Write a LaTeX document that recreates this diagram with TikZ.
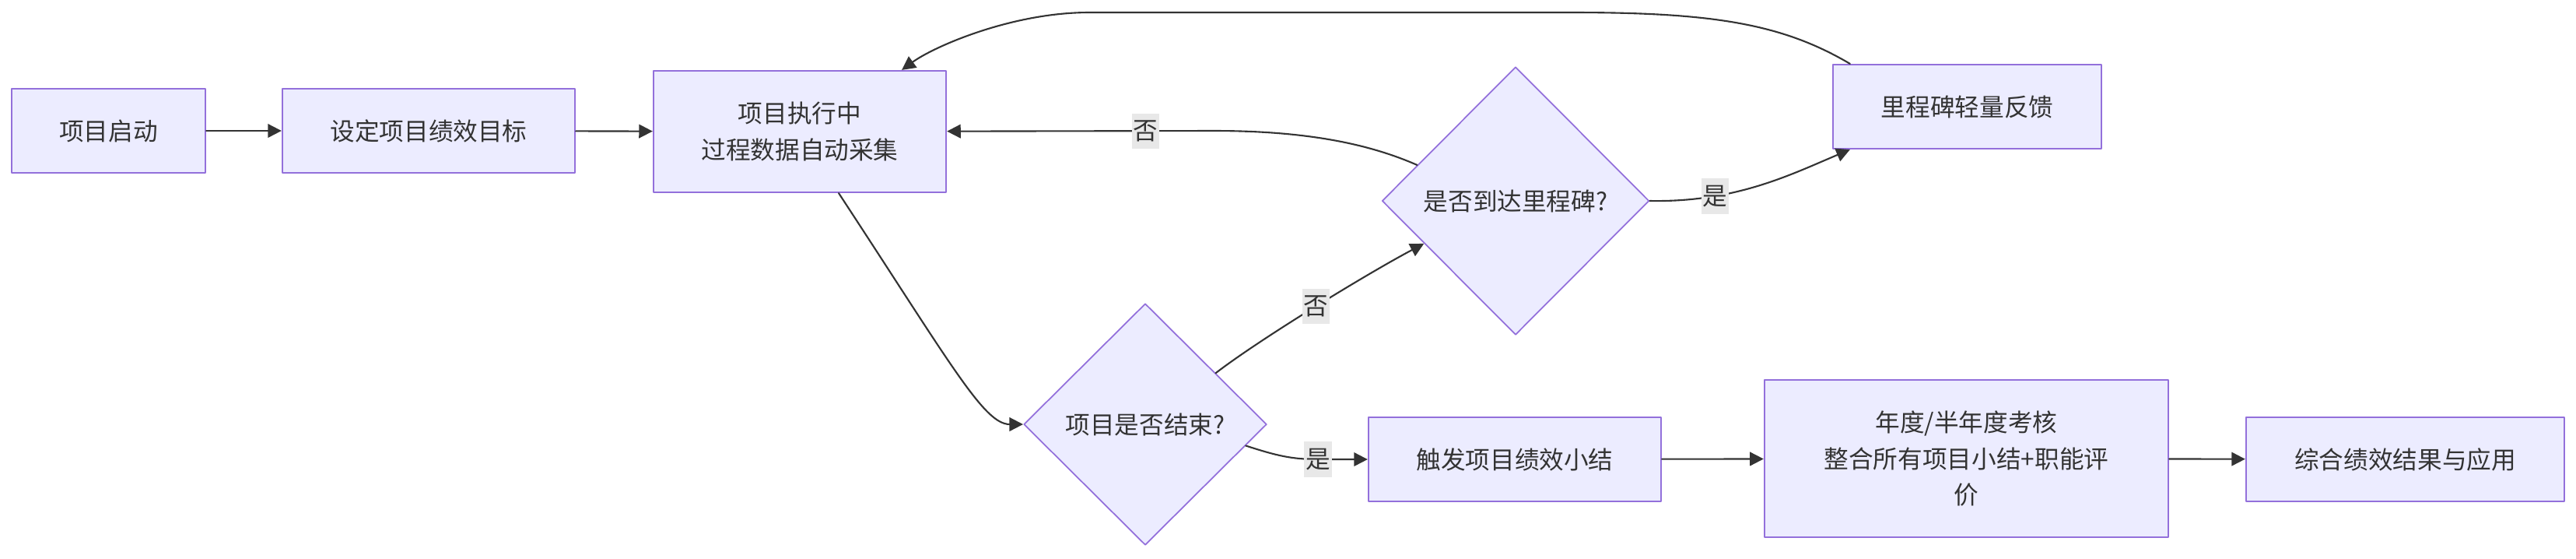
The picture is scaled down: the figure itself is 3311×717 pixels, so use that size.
\documentclass[tikz,border=0pt]{standalone}
\usepackage{fontspec}
\setmainfont{Noto Sans CJK SC}
\usetikzlibrary{shapes.geometric,arrows.meta}
\definecolor{FlowFill}{HTML}{ECECFF}
\definecolor{FlowStroke}{HTML}{9370DB}
\definecolor{FlowLine}{HTML}{333333}
\definecolor{FlowLabel}{HTML}{E8E8E8}
\begin{document}
\begin{tikzpicture}[x=0.01cm,y=-0.01cm,line cap=round,line join=round,
  font=\fontsize{9}{13.2}\selectfont,text=FlowLine,
  box/.style={draw=FlowStroke,fill=FlowFill,line width=0.6pt,align=center,inner sep=0pt},
  ask/.style={diamond,draw=FlowStroke,fill=FlowFill,line width=0.5pt,align=center,inner sep=0pt},
  flow/.style={draw=FlowLine,line width=0.6pt,-{Triangle[length=5pt,width=5pt]}},
  tag/.style={fill=FlowLabel,inner xsep=0.5pt,inner ysep=2.5pt}]
  \useasboundingbox (0,0) rectangle (3311,717);
  \node[box,minimum width=2.49cm,minimum height=1.08cm] (start) at (139.5,168) {项目启动};
  \node[box,minimum width=3.76cm,minimum height=1.08cm] (goal) at (551,168) {设定项目绩效目标};
  \node[box,minimum width=3.76cm,minimum height=1.56cm] (run) at (1028,169) {项目执行中\\过程数据自动采集};
  \node[ask,minimum width=3.43cm,minimum height=3.44cm] (mile) at (1948,258) {是否到达里程碑?};
  \node[box,minimum width=3.45cm,minimum height=1.08cm] (fb) at (2528.5,137) {里程碑轻量反馈};
  \node[ask,minimum width=3.12cm,minimum height=3.10cm] (ended) at (1472,545) {项目是否结束?};
  \node[box,minimum width=3.76cm,minimum height=1.08cm] (done) at (1947,590) {触发项目绩效小结};
  \node[box,minimum width=5.19cm,minimum height=2.02cm] (review) at (2527.5,589) {年度/半年度考核\\整合所有项目小结+职能评\\价};
  \node[box,minimum width=4.09cm,minimum height=1.08cm] (apply) at (3091.5,590) {综合绩效结果与应用};
  \draw[flow] (start) -- (goal);
  \draw[flow] (goal) -- (run);
  \draw[flow] ([xshift=0.5cm]run.south) .. controls (1225,472) and (1265,545) .. (ended.west);
  \draw[flow] (ended.36) .. controls (1620,435) and (1760,350) .. (mile.205) node[tag,pos=0.5] {否};
  \draw[flow] (mile.160) .. controls (1760,185) and (1680,168) .. (1560,168) -- node[tag,pos=0.256] {否} (run);
  \draw[flow] (mile.east) .. controls (2230,260) and (2300,225) .. ([xshift=0.23cm]fb.south west) node[tag,pos=0.28] {是};
  \draw[flow] ([xshift=0.23cm]fb.north west) .. controls (2290,30) and (2200,16) .. (2020,16) -- (1400,16)
    .. controls (1300,16) and (1200,60) .. ([xshift=1.31cm]run.north);
  \draw[flow] (ended.-12) .. controls (1640,585) and (1660,590) .. (1694,590) node[tag] {是} -- (done);
  \draw[flow] (done) -- (review);
  \draw[flow] (review) -- (apply);
\end{tikzpicture}
\end{document}
